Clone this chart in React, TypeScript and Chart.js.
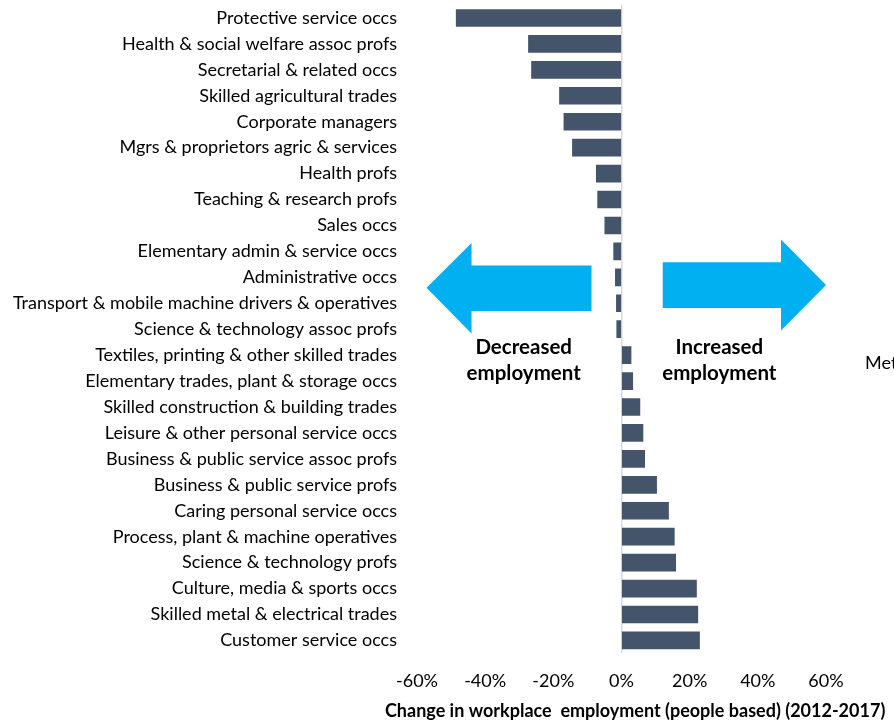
import React, { useEffect, useRef } from "react";
import { Chart, registerables } from "chart.js";

Chart.register(...registerables);

const categories = [
  "Protective service occs",
  "Health & social welfare assoc profs",
  "Secretarial & related occs",
  "Skilled agricultural trades",
  "Corporate managers",
  "Mgrs & proprietors agric & services",
  "Health profs",
  "Teaching & research profs",
  "Sales occs",
  "Elementary admin & service occs",
  "Administrative occs",
  "Transport & mobile machine drivers & operatives",
  "Science & technology assoc profs",
  "Textiles, printing & other skilled trades",
  "Elementary trades, plant & storage occs",
  "Skilled construction & building trades",
  "Leisure & other personal service occs",
  "Business & public service assoc profs",
  "Business & public service profs",
  "Caring personal service occs",
  "Process, plant & machine operatives",
  "Science & technology profs",
  "Culture, media & sports occs",
  "Skilled metal & electrical trades",
  "Customer service occs",
];

const changePct = [
  -48.5, -27.3, -26.4, -18.2, -16.9, -14.4, -7.4, -7.0, -4.9, -2.3, -1.8, -1.5,
  -1.4, 2.8, 3.3, 5.4, 6.3, 6.8, 10.3, 13.8, 15.5, 15.9, 22.0, 22.4, 22.9,
];

const xTicks = [-60, -40, -20, 0, 20, 40, 60];

const axisTitle = "Change in workplace  employment (people based) (2012-2017)";
const leftLabel = ["Decreased", "employment"];
const rightLabel = ["Increased", "employment"];
const sideNote = "Met";

const FONT = "Lato, 'Open Sans', sans-serif";
const BAR = "#44546A";
const ARROW = "#00B0F0";

// arrows in data units: [x value, category index]
const leftArrow: [number, number][] = [
  [-57.2, 10.4],
  [-44.0, 8.68],
  [-44.0, 9.54],
  [-8.8, 9.54],
  [-8.8, 11.3],
  [-44.0, 11.3],
  [-44.0, 12.17],
];
const rightArrow: [number, number][] = [
  [60.0, 10.3],
  [46.8, 8.54],
  [46.8, 9.42],
  [12.1, 9.42],
  [12.1, 11.18],
  [46.8, 11.18],
  [46.8, 12.05],
];

const overlay = {
  id: "overlay",
  afterDatasetsDraw(chart: any) {
    const { ctx, scales, chartArea } = chart;
    const xs = scales.x;
    const ys = scales.y;
    ctx.save();
    ctx.fillStyle = ARROW;
    for (const poly of [leftArrow, rightArrow]) {
      ctx.beginPath();
      poly.forEach(([vx, vy], i) => {
        const px = xs.getPixelForValue(vx);
        const py = ys.getPixelForValue(vy);
        if (i === 0) ctx.moveTo(px, py);
        else ctx.lineTo(px, py);
      });
      ctx.closePath();
      ctx.fill();
    }
    ctx.fillStyle = "#000";
    ctx.font = `bold 20.5px ${FONT}`;
    ctx.textAlign = "center";
    ctx.textBaseline = "middle";
    const l1 = ys.getPixelForValue(12.69);
    const l2 = ys.getPixelForValue(13.72);
    ctx.fillText(leftLabel[0], xs.getPixelForValue(-28.7), l1);
    ctx.fillText(leftLabel[1], xs.getPixelForValue(-28.7), l2);
    ctx.fillText(rightLabel[0], xs.getPixelForValue(28.7), l1);
    ctx.fillText(rightLabel[1], xs.getPixelForValue(28.7), l2);

    ctx.font = `18px ${FONT}`;
    ctx.textAlign = "left";
    ctx.fillText(sideNote, chartArea.right + 39, ys.getPixelForValue(13.3));

    ctx.font = `bold 18px ${FONT}`;
    ctx.textAlign = "center";
    ctx.fillText(axisTitle, xs.getPixelForValue(4), chart.height - 10);
    ctx.restore();
  },
};

export default function App() {
  const ref = useRef<HTMLCanvasElement>(null);
  useEffect(() => {
    if (!ref.current) return;
    const chart = new Chart(ref.current, {
      type: "bar",
      data: {
        labels: categories,
        datasets: [
          {
            data: changePct,
            backgroundColor: BAR,
            barThickness: 17,
          },
        ],
      },
      options: {
        indexAxis: "y",
        animation: false,
        responsive: true,
        maintainAspectRatio: false,
        layout: { padding: { top: 5, right: 68, bottom: 29, left: 0 } },
        plugins: { legend: { display: false }, tooltip: { enabled: false } },
        scales: {
          x: {
            min: -60,
            max: 60,
            afterBuildTicks: (s: any) => {
              s.ticks = xTicks.map((v) => ({ value: v }));
            },
            ticks: {
              callback: (v: any) => `${v}%`,
              color: "#000",
              font: { family: FONT, size: 18 },
              padding: 0,
              maxRotation: 0,
            },
            grid: {
              drawTicks: true,
              tickLength: 17,
              tickColor: "rgba(0,0,0,0)",
              color: (c: any) => (c.tick && c.tick.value === 0 ? "#D9D9D9" : "rgba(0,0,0,0)"),
              lineWidth: 1.5,
            },
            border: { display: false },
          },
          y: {
            afterFit: (s: any) => {
              s.width = 417;
              s.paddingTop = 0;
              s.paddingBottom = 0;
            },
            ticks: {
              color: "#000",
              font: { family: FONT, size: 18 },
              padding: 0,
              autoSkip: false,
            },
            grid: { display: false, drawTicks: true, tickLength: 20 },
            border: { display: false },
          },
        },
      },
      plugins: [overlay],
    });
    return () => chart.destroy();
  }, []);
  return (
    <div style={{ position: "fixed", left: 0, top: 0, width: 894, height: 721, background: "#fff" }}>
      <canvas ref={ref} />
    </div>
  );
}
